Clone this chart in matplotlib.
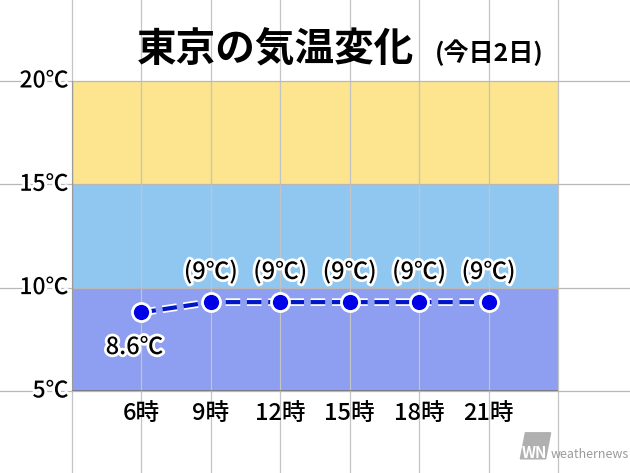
import matplotlib.pyplot as plt
import matplotlib.patheffects as pe
from matplotlib.patches import Polygon

plt.rcParams['font.family'] = ['Noto Sans CJK JP', 'DejaVu Sans']

# 時刻と気温
hours = [6, 9, 12, 15, 18, 21]
hour_labels = ['6時', '9時', '12時', '15時', '18時', '21時']
temps = [8.8, 9.3, 9.3, 9.3, 9.3, 9.3]
temp_labels = ['8.6℃', '(9℃)', '(9℃)', '(9℃)', '(9℃)', '(9℃)']
y_ticks = [5, 10, 15, 20]
y_tick_labels = ['5℃', '10℃', '15℃', '20℃']
bands = [(5, 10, '#8e9ef0'), (10, 15, '#8fc7f1'), (15, 20, '#fce58e')]

fig = plt.figure(figsize=(6.3, 4.73), dpi=100)
ax = fig.add_axes([0.1143, 0.1734, 0.7714, 0.6554])
ax.set_xlim(3, 24)
ax.set_ylim(5, 20)
ax.axis('off')

for lo, hi, c in bands:
    ax.axhspan(lo, hi, color=c, zorder=1, lw=0)

# 方眼のグリッド (図全体に伸ばす)
for x in range(3, 25, 3):
    ax.axvline(x, ymin=-0.27, ymax=1.27, color='#c4c4c4', lw=0.9, clip_on=False, zorder=2)
for y in y_ticks:
    ax.axhline(y, xmin=-0.15, xmax=1.15, color='#b8b8b8', lw=0.9, clip_on=False, zorder=2)
ax.plot([3, 3], [5, 20], color='#9a9a9a', lw=1, zorder=2)
ax.plot([3, 24], [5, 5], color='#777777', lw=1.2, zorder=2)

white = [pe.withStroke(linewidth=4, foreground='white')]

for y, lab in zip(y_ticks, y_tick_labels):
    ax.text(2.85, y, lab, ha='right', va='center', fontsize=16.5, fontweight='medium',
            color='black', path_effects=white, zorder=5, clip_on=False)
for x, lab in zip(hours, hour_labels):
    ax.text(x, 3.9, lab, ha='center', va='center', fontsize=17, fontweight='medium',
            color='black', zorder=5)

ax.plot(hours, temps, color='#0016c8', lw=3, ls=(0, (3.5, 1.6)), zorder=3,
        path_effects=[pe.withStroke(linewidth=5.5, foreground='white')])
ax.plot(hours, temps, ls='none', marker='o', ms=13, mfc='#0000e8', mec='white', mew=2, zorder=4)

for i, (x, y, lab) in enumerate(zip(hours, temps, temp_labels)):
    if i == 0:
        ax.text(x - 0.3, y - 1.7, lab, ha='center', va='center', fontsize=17,
                fontweight='medium', path_effects=white, zorder=5)
    else:
        ax.text(x, y + 1.45, lab, ha='center', va='center', fontsize=17,
                fontweight='medium', path_effects=white, zorder=5)

fig.text(0.437, 0.895, '東京の気温変化', ha='center', va='center', fontsize=28.5,
         fontweight='bold', color='black')
fig.text(0.776, 0.888, '(今日2日)', ha='center', va='center', fontsize=18,
         fontweight='bold', color='black')

# weathernews ロゴ
fig.patches.append(Polygon([[0.826, 0.03], [0.866, 0.03], [0.874, 0.085], [0.834, 0.085]],
                           closed=True, transform=fig.transFigure, color='#b0b0b0', zorder=1))
fig.text(0.848, 0.042, 'WN', ha='center', va='center', fontsize=11, fontweight='bold',
         style='italic', color='white')
fig.text(0.874, 0.04, 'weathernews', ha='left', va='center', fontsize=9,
         style='italic', color='#9a9a9a')

fig.savefig('out.png', dpi=100)
